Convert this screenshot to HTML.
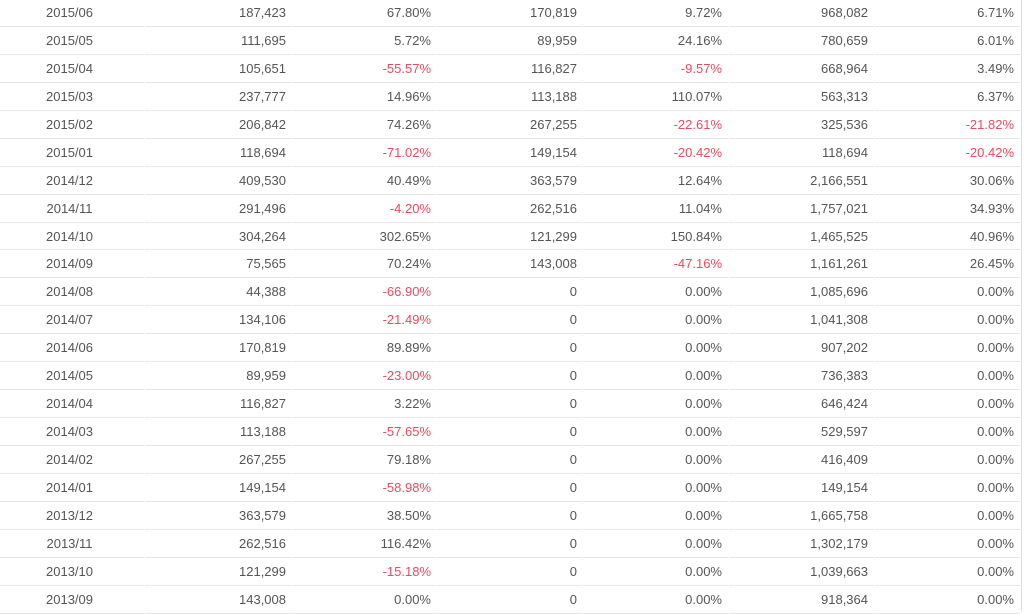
<!DOCTYPE html>
<html>
<head>
<meta charset="utf-8">
<style>
html,body{margin:0;padding:0;background:#fff;}
body{width:1024px;height:611px;overflow:hidden;position:relative;font-family:"Liberation Sans",Arial,sans-serif;font-size:13px;color:#555;}
#t{position:absolute;left:0;top:-1px;width:1021px;}
.r{position:relative;height:27.95px;}
.r span{position:absolute;top:0;height:26.95px;border-bottom:1px solid #e6e6e6;line-height:27.4px;white-space:nowrap;box-sizing:content-box;}
.r span:nth-child(1){left:0;width:139px;padding-right:5px;text-align:center;}
.r span:nth-child(2){left:145px;width:141px;padding-right:5px;text-align:right;}
.r span:nth-child(3){left:292px;width:139px;padding-right:5px;text-align:right;}
.r span:nth-child(4){left:437px;width:140px;padding-right:5px;text-align:right;}
.r span:nth-child(5){left:583px;width:139px;padding-right:6px;text-align:right;}
.r span:nth-child(6){left:729px;width:139px;padding-right:6px;text-align:right;}
.r span:nth-child(7){left:875px;width:139px;padding-right:6px;text-align:right;}
.r span.n{color:#f4475c;}
#vl{position:absolute;left:1021px;top:0;width:1px;height:611px;background:#dcdcdc;}
</style>
</head>
<body>
<div id="t">
<div class="r"><span>2015/06</span><span>187,423</span><span>67.80%</span><span>170,819</span><span>9.72%</span><span>968,082</span><span>6.71%</span></div>
<div class="r"><span>2015/05</span><span>111,695</span><span>5.72%</span><span>89,959</span><span>24.16%</span><span>780,659</span><span>6.01%</span></div>
<div class="r"><span>2015/04</span><span>105,651</span><span class="n">-55.57%</span><span>116,827</span><span class="n">-9.57%</span><span>668,964</span><span>3.49%</span></div>
<div class="r"><span>2015/03</span><span>237,777</span><span>14.96%</span><span>113,188</span><span>110.07%</span><span>563,313</span><span>6.37%</span></div>
<div class="r"><span>2015/02</span><span>206,842</span><span>74.26%</span><span>267,255</span><span class="n">-22.61%</span><span>325,536</span><span class="n">-21.82%</span></div>
<div class="r"><span>2015/01</span><span>118,694</span><span class="n">-71.02%</span><span>149,154</span><span class="n">-20.42%</span><span>118,694</span><span class="n">-20.42%</span></div>
<div class="r"><span>2014/12</span><span>409,530</span><span>40.49%</span><span>363,579</span><span>12.64%</span><span>2,166,551</span><span>30.06%</span></div>
<div class="r"><span>2014/11</span><span>291,496</span><span class="n">-4.20%</span><span>262,516</span><span>11.04%</span><span>1,757,021</span><span>34.93%</span></div>
<div class="r"><span>2014/10</span><span>304,264</span><span>302.65%</span><span>121,299</span><span>150.84%</span><span>1,465,525</span><span>40.96%</span></div>
<div class="r"><span>2014/09</span><span>75,565</span><span>70.24%</span><span>143,008</span><span class="n">-47.16%</span><span>1,161,261</span><span>26.45%</span></div>
<div class="r"><span>2014/08</span><span>44,388</span><span class="n">-66.90%</span><span>0</span><span>0.00%</span><span>1,085,696</span><span>0.00%</span></div>
<div class="r"><span>2014/07</span><span>134,106</span><span class="n">-21.49%</span><span>0</span><span>0.00%</span><span>1,041,308</span><span>0.00%</span></div>
<div class="r"><span>2014/06</span><span>170,819</span><span>89.89%</span><span>0</span><span>0.00%</span><span>907,202</span><span>0.00%</span></div>
<div class="r"><span>2014/05</span><span>89,959</span><span class="n">-23.00%</span><span>0</span><span>0.00%</span><span>736,383</span><span>0.00%</span></div>
<div class="r"><span>2014/04</span><span>116,827</span><span>3.22%</span><span>0</span><span>0.00%</span><span>646,424</span><span>0.00%</span></div>
<div class="r"><span>2014/03</span><span>113,188</span><span class="n">-57.65%</span><span>0</span><span>0.00%</span><span>529,597</span><span>0.00%</span></div>
<div class="r"><span>2014/02</span><span>267,255</span><span>79.18%</span><span>0</span><span>0.00%</span><span>416,409</span><span>0.00%</span></div>
<div class="r"><span>2014/01</span><span>149,154</span><span class="n">-58.98%</span><span>0</span><span>0.00%</span><span>149,154</span><span>0.00%</span></div>
<div class="r"><span>2013/12</span><span>363,579</span><span>38.50%</span><span>0</span><span>0.00%</span><span>1,665,758</span><span>0.00%</span></div>
<div class="r"><span>2013/11</span><span>262,516</span><span>116.42%</span><span>0</span><span>0.00%</span><span>1,302,179</span><span>0.00%</span></div>
<div class="r"><span>2013/10</span><span>121,299</span><span class="n">-15.18%</span><span>0</span><span>0.00%</span><span>1,039,663</span><span>0.00%</span></div>
<div class="r"><span>2013/09</span><span>143,008</span><span>0.00%</span><span>0</span><span>0.00%</span><span>918,364</span><span>0.00%</span></div>
</div>
<div id="vl"></div>
</body>
</html>
